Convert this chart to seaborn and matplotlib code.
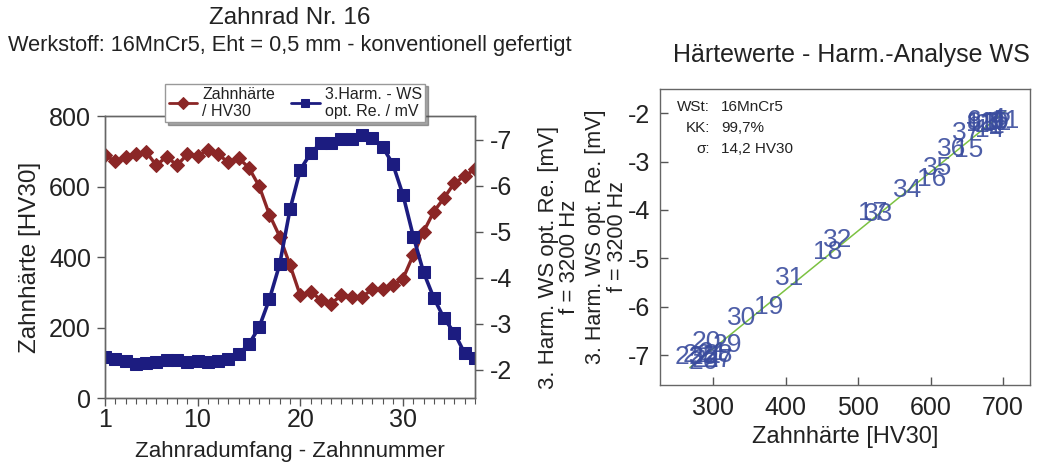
import numpy as np
import pandas as pd
import matplotlib
matplotlib.use("Agg")
import matplotlib.pyplot as plt
from matplotlib.ticker import MultipleLocator, FixedLocator
import seaborn as sns

# ---------------- data ----------------
teeth = list(range(1, 38))
hardness = [689, 671, 684, 692, 698, 660, 685, 660, 691, 687, 703, 691, 669, 681,
            653, 601, 520, 458, 377, 291, 301, 279, 268, 291, 287, 287, 308, 308,
            320, 339, 406, 472, 529, 568, 610, 629, 650]
ws = [-2.29, -2.24, -2.20, -2.12, -2.16, -2.17, -2.22, -2.21, -2.18, -2.20, -2.17,
      -2.20, -2.23, -2.34, -2.56, -2.93, -3.54, -4.30, -5.49, -6.35, -6.71, -6.93,
      -6.93, -7.01, -7.01, -7.11, -7.04, -6.85, -6.48, -5.80, -4.90, -4.12, -3.56,
      -3.12, -2.80, -2.36, -2.25]
# WS values as placed in the right-hand correlation chart
ws_scatter = [-2.29, -2.24, -2.20, -2.12, -2.16, -2.17, -2.22, -2.21, -2.18, -2.20,
              -2.17, -2.20, -2.23, -2.34, -2.76, -3.36, -4.06, -4.87, -6.01, -6.73,
              -6.95, -7.00, -7.05, -7.10, -7.05, -7.15, -7.10, -7.00, -6.80, -6.24,
              -5.41, -4.62, -4.08, -3.59, -3.13, -2.74, -2.41]
x_ticks_left = [1, 10, 20, 30]
y_ticks_left = [0, 200, 400, 600, 800]
y_ticks_right = [-7, -6, -5, -4, -3, -2]
x_ticks_scatter = [300, 400, 500, 600, 700]
legend_labels = ["Zahnhärte\n/ HV30", "3.Harm. - WS\nopt. Re. / mV"]
stats_keys = ["WSt:", "KK:", "σ:"]
stats_vals = ["16MnCr5", "99,7%", "14,2 HV30"]

df = pd.DataFrame({"zahn": teeth, "haerte": hardness, "ws": ws, "ws_sc": ws_scatter})

# ---------------- style ----------------
sns.set_theme(style="ticks")
plt.rcParams["font.family"] = ["Liberation Sans", "DejaVu Sans"]
plt.rcParams["text.color"] = "#222222"
plt.rcParams["axes.labelcolor"] = "#222222"
plt.rcParams["xtick.color"] = "#555555"
plt.rcParams["ytick.color"] = "#555555"
plt.rcParams["xtick.labelcolor"] = "#222222"
plt.rcParams["ytick.labelcolor"] = "#222222"

RED = "#8B2626"
BLUE = "#1C1C80"
TXTBLUE = "#3A4C9E"
GREEN = "#7CC242"
SPINE = "#666666"
TICK_FS = 18

W, H = 1038, 465
fig = plt.figure(figsize=(W / 100, H / 100), dpi=100)

def rect(l, r, t, b):
    return [l / W, 1 - b / H, (r - l) / W, (b - t) / H]

# ---------------- left chart ----------------
ax = fig.add_axes(rect(105, 475, 116, 398))
sns.lineplot(data=df, x="zahn", y="haerte", ax=ax, color=RED, marker="D",
             markersize=7, markeredgecolor=RED, linewidth=2.4, legend=False)
ax.set_xlim(1, 37)
ax.set_ylim(0, 800)
ax.xaxis.set_major_locator(FixedLocator(x_ticks_left))
ax.xaxis.set_minor_locator(MultipleLocator(1))
ax.yaxis.set_major_locator(FixedLocator(y_ticks_left))
ax.tick_params(axis="both", which="major", direction="out", length=6, width=1,
               labelsize=TICK_FS)
ax.tick_params(axis="x", which="major", pad=1)
ax.tick_params(axis="y", which="major", pad=4)
ax.tick_params(axis="x", which="minor", direction="out", length=4, width=0.8)
ax.set_xlabel("Zahnradumfang - Zahnnummer", fontsize=16, labelpad=7)
ax.set_ylabel("Zahnhärte [HV30]", fontsize=17.5, labelpad=6)

ax2 = ax.twinx()
sns.lineplot(data=df, x="zahn", y="ws", ax=ax2, color=BLUE, marker="s",
             markersize=8.5, markeredgecolor=BLUE, linewidth=2.6, legend=False)
ax2.set_ylim(-1.39, -7.52)
ax2.yaxis.set_major_locator(FixedLocator(y_ticks_right))
ax2.set_yticklabels([str(v) for v in y_ticks_right])
ax2.tick_params(axis="y", direction="out", length=6, width=1, labelsize=TICK_FS,
                pad=5)
ax2.set_ylabel("3. Harm. WS opt. Re. [mV]\nf = 3200 Hz", fontsize=16,
               labelpad=18, linespacing=1.05)
for a in (ax, ax2):
    for s in a.spines.values():
        s.set_visible(True)
        s.set_color(SPINE)
        s.set_linewidth(1)

h1 = ax.get_lines()[0]
h2 = ax2.get_lines()[0]
leg = ax2.legend([h1, h2], legend_labels, ncol=2, loc="center",
                 bbox_to_anchor=(0.514, 1.046), fontsize=11.5, frameon=True,
                 shadow=True, fancybox=False, edgecolor="#999999",
                 handlelength=1.8, handletextpad=0.3, columnspacing=1.0,
                 borderpad=0.2, labelspacing=0.2, framealpha=1)
for ln in leg.get_lines():
    ln.set_markersize(6)
    ln.set_linewidth(2)

fig.text(290 / W, 1 - 18 / H, "Zahnrad Nr. 16", ha="center", va="center",
         fontsize=17.5)
fig.text(290 / W, 1 - 46 / H,
         "Werkstoff: 16MnCr5, Eht = 0,5 mm - konventionell gefertigt",
         ha="center", va="center", fontsize=15.7)

# ---------------- right chart ----------------
bx = fig.add_axes(rect(660, 1030, 89, 385))
sns.regplot(data=df, x="haerte", y="ws_sc", ax=bx, scatter=False, ci=None,
            truncate=True, color=GREEN, line_kws={"linewidth": 1.1})
for z, hx, wy in zip(teeth, hardness, ws_scatter):
    bx.text(hx, wy, str(z), color=TXTBLUE, fontsize=19, ha="center",
            va="center", alpha=0.9)
bx.set_xlim(227, 737)
bx.set_ylim(-7.62, -1.5)
bx.xaxis.set_major_locator(FixedLocator(x_ticks_scatter))
bx.yaxis.set_major_locator(FixedLocator(y_ticks_right))
bx.set_yticklabels([str(v) for v in y_ticks_right])
bx.tick_params(axis="both", direction="in", length=6, width=1, labelsize=TICK_FS)
bx.tick_params(axis="x", pad=8)
bx.tick_params(axis="y", pad=7)
bx.set_xlabel("Zahnhärte [HV30]", fontsize=17, labelpad=4)
bx.set_ylabel("3. Harm. WS opt. Re. [mV]\nf = 3200 Hz", fontsize=15.5,
              labelpad=0, linespacing=1.05)
for s in bx.spines.values():
    s.set_visible(True)
    s.set_color(SPINE)
    s.set_linewidth(1)
fig.text(851 / W, 1 - 55 / H, "Härtewerte - Harm.-Analyse WS", ha="center",
         va="center", fontsize=18)

for i, (k, v) in enumerate(zip(stats_keys, stats_vals)):
    yy = 0.94 - i * 0.072
    bx.text(0.135, yy, k, transform=bx.transAxes, ha="right", va="center",
            fontsize=11)
    bx.text(0.165, yy, v, transform=bx.transAxes, ha="left", va="center",
            fontsize=11)

fig.savefig("out.png", dpi=100)
